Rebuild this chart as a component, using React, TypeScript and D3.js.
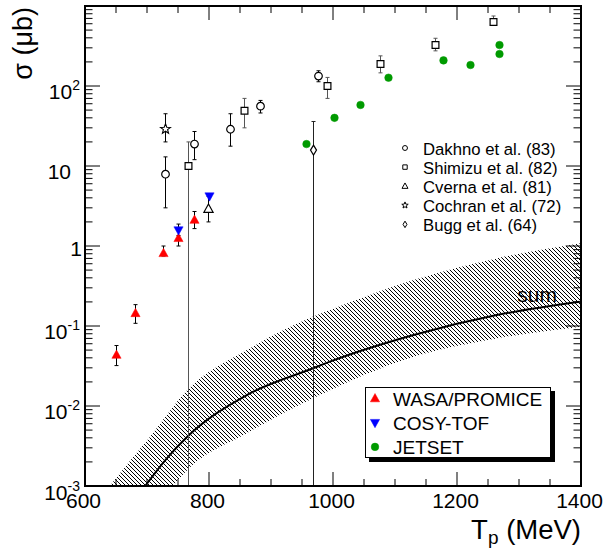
import React from 'react';
import * as d3 from 'd3';

// ---------- data ----------
const wasaT = [650, 680, 725, 750, 775];
const wasaV = [0.0434, 0.144, 0.81, 1.25, 2.11];
const wasaLo = [0.032, 0.108, 0.75, 1.0, 1.65];
const wasaHi = [0.057, 0.185, 1.0, 1.6, 2.7];

const cosyT = [750, 800];
const cosyV = [1.58, 4.2];
const cosyLo = [1.35, 4.2];
const cosyHi = [1.88, 4.2];

const jetT = [957, 1001, 1044, 1089, 1177, 1221, 1267, 1267];
const jetV = [18.8, 40, 58, 127, 209, 183, 325, 251];

const dakhnoT = [729, 776, 834, 882, 976];
const dakhnoV = [7.9, 18.8, 28.8, 56, 133];
const dakhnoLo = [3.0, 12, 17.7, 46, 113];
const dakhnoHi = [13, 27, 45, 66, 155];

const shimizuT = [766, 856, 990, 1076, 1165, 1258];
const shimizuV = [10, 49, 100, 188, 325, 631];
const shimizuLo = [0.0001, 30, 70, 146, 275, 580];
const shimizuHi = [20, 70, 128, 238, 395, 750];

const cvernaT = [799];
const cvernaV = [2.9];
const cvernaLo = [2.0];
const cvernaHi = [4.2];

const cochranT = [729];
const cochranV = [29];
const cochranLo = [20];
const cochranHi = [45];

const buggT = [968];
const buggV = [15.8];
const buggLo = [0.0001];
const buggHi = [36];

const sumT = [697, 732, 765, 861, 968, 995, 1130, 1264, 1398];
const sumV = [0.001, 0.00222, 0.00413, 0.0137, 0.0296, 0.0358, 0.0772, 0.137, 0.201];
const bandUpT = [640, 678, 705, 765, 861, 968, 995, 1130, 1264, 1400];
const bandUpV = [0.001, 0.00232, 0.00413, 0.0158, 0.05, 0.131, 0.158, 0.376, 0.7, 1.08];
const bandLoT = [742, 765, 861, 968, 1130, 1264, 1400];
const bandLoV = [0.001, 0.00158, 0.00457, 0.0125, 0.0413, 0.07, 0.098];

const xTickLabels = ['600', '800', '1000', '1200', '1400'];
const yTickExp = [-3, -2, -1, 0, 1, 2];

const legendTop = ['Dakhno et al. (83)', 'Shimizu et al. (82)', 'Cverna et al. (81)', 'Cochran et al. (72)', 'Bugg et al. (64)'];
const legendBox = ['WASA/PROMICE', 'COSY-TOF', 'JETSET'];

// ---------- layout ----------
const W = 604, H = 548;
const L = 85, R = 581, T = 6, B = 486;
const FONT = 'Liberation Sans, Arial, Helvetica, sans-serif';
const RED = '#ff0000', BLUE = '#0000ff', GREEN = '#009a00';

const x = d3.scaleLinear().domain([600, 1400]).range([L, R]);
const y = d3.scaleLog().domain([1e-3, 1e3]).range([B, T]);

type Shape = 'tri' | 'tridown' | 'circle' | 'square' | 'star' | 'diamond';

function markerPath(shape: Shape, s: number): string {
  switch (shape) {
    case 'tri':
      return `M0,${-5 * s}L${4.6 * s},${3.3 * s}L${-4.6 * s},${3.3 * s}Z`;
    case 'tridown':
      return `M0,${5 * s}L${4.6 * s},${-3.3 * s}L${-4.6 * s},${-3.3 * s}Z`;
    case 'square':
      return `M${-3.4 * s},${-3.4 * s}h${6.8 * s}v${6.8 * s}h${-6.8 * s}Z`;
    case 'diamond':
      return `M0,${-5 * s}L${3 * s},0L0,${5 * s}L${-3 * s},0Z`;
    case 'circle': {
      const r = 3.8 * s;
      return `M${r},0A${r},${r},0,1,1,${-r},0A${r},${r},0,1,1,${r},0Z`;
    }
    case 'star': {
      const pts: string[] = [];
      for (let i = 0; i < 10; i++) {
        const rr = i % 2 === 0 ? 5.2 * s : 2.2 * s;
        const a = -Math.PI / 2 + (i * Math.PI) / 5;
        pts.push(`${(rr * Math.cos(a)).toFixed(2)},${(rr * Math.sin(a)).toFixed(2)}`);
      }
      return 'M' + pts.join('L') + 'Z';
    }
  }
}

function ErrBars({ ts, lo, hi, color = '#000' }: { ts: number[]; lo: number[]; hi: number[]; color?: string }) {
  return (
    <g stroke={color} strokeWidth={1}>
      {ts.map((t, i) => {
        const cx = Math.round(x(t)) + 0.5;
        const y1 = Math.min(B, y(lo[i]));
        const y2 = y(hi[i]);
        if (Math.abs(y1 - y2) < 1) return null;
        return (
          <g key={i}>
            <line x1={cx} x2={cx} y1={y1} y2={y2} />
            {y1 < B - 1 && <line x1={cx - 2} x2={cx + 2} y1={y1} y2={y1} />}
            <line x1={cx - 2} x2={cx + 2} y1={y2} y2={y2} />
          </g>
        );
      })}
    </g>
  );
}

function Markers({ ts, vs, shape, fill, stroke, sw }: { ts: number[]; vs: number[]; shape: Shape; fill: string; stroke: string; sw: number }) {
  return (
    <g>
      {ts.map((t, i) => (
        <path key={i} d={markerPath(shape, 1)} transform={`translate(${Math.round(x(t)) + 0.5},${y(vs[i])})`} fill={fill} stroke={stroke} strokeWidth={sw} />
      ))}
    </g>
  );
}

export default function App() {
  const curve = d3.curveMonotoneX;
  const lineGen = d3.line<[number, number]>().x((d) => x(d[0])).y((d) => y(d[1])).curve(curve);
  const areaGen = d3.area<[number, number]>().x((d) => x(d[0])).y1((d) => y(d[1])).y0(B + 2).curve(curve);
  const up: [number, number][] = bandUpT.map((t, i) => [t, bandUpV[i]]);
  const lo: [number, number][] = bandLoT.map((t, i) => [t, bandLoV[i]]);
  const upArea = areaGen(up) || '';
  const loArea = areaGen(lo) || '';
  const sumPath = lineGen(sumT.map((t, i) => [t, sumV[i]] as [number, number])) || '';

  // ticks
  const xMajor = d3.range(600, 1401, 200);
  const xMinor = d3.range(600, 1401, 50).filter((v) => v % 200 !== 0);
  const yMajor = d3.range(-3, 4).map((e) => Math.pow(10, e));
  const yMinor: number[] = [];
  for (let e = -3; e < 3; e++) for (let m = 2; m <= 9; m++) yMinor.push(m * Math.pow(10, e));

  return (
    <svg width={W} height={H} style={{ position: 'absolute', left: 0, top: 0, background: '#fff' }} fontFamily={FONT}>
      <defs>
        <clipPath id="frame">
          <rect x={L} y={T} width={R - L} height={B - T} />
        </clipPath>
        <pattern id="hatch" x={0} y={0} width={4} height={4} patternUnits="userSpaceOnUse">
          <path d="M0,0h1v1h-1ZM1,1h1v1h-1ZM2,2h1v1h-1ZM3,3h1v1h-1Z" fill="#000" shapeRendering="crispEdges" />
        </pattern>
      </defs>
      <rect x={0} y={0} width={W} height={H} fill="#fff" />

      <g clipPath="url(#frame)">
        <path d={upArea} fill="url(#hatch)" stroke="none" />
        <path d={loArea} fill="#fff" stroke="none" />
        <path d={sumPath} fill="none" stroke="#000" strokeWidth={2} />
      </g>

      <text x={557} y={302} fontSize={21} textAnchor="end" fill="#000">sum</text>

      <g clipPath="url(#frame)">
        <ErrBars ts={wasaT} lo={wasaLo} hi={wasaHi} />
        <ErrBars ts={cosyT} lo={cosyLo} hi={cosyHi} />
        <ErrBars ts={dakhnoT} lo={dakhnoLo} hi={dakhnoHi} />
        <ErrBars ts={shimizuT} lo={shimizuLo} hi={shimizuHi} color="#555" />
        <ErrBars ts={cvernaT} lo={cvernaLo} hi={cvernaHi} />
        <ErrBars ts={cochranT} lo={cochranLo} hi={cochranHi} />
        <ErrBars ts={buggT} lo={buggLo} hi={buggHi} color="#222" />

        <Markers ts={wasaT} vs={wasaV} shape="tri" fill={RED} stroke={RED} sw={0.5} />
        <Markers ts={cosyT} vs={cosyV} shape="tridown" fill={BLUE} stroke={BLUE} sw={0.5} />
        <Markers ts={jetT} vs={jetV} shape="circle" fill={GREEN} stroke={GREEN} sw={0.5} />
        <Markers ts={dakhnoT} vs={dakhnoV} shape="circle" fill="#fff" stroke="#000" sw={1.2} />
        <Markers ts={shimizuT} vs={shimizuV} shape="square" fill="#fff" stroke="#000" sw={1.2} />
        <Markers ts={cvernaT} vs={cvernaV} shape="tri" fill="#fff" stroke="#000" sw={1.2} />
        <Markers ts={cochranT} vs={cochranV} shape="star" fill="#fff" stroke="#000" sw={1.1} />
        <Markers ts={buggT} vs={buggV} shape="diamond" fill="#fff" stroke="#000" sw={1.2} />
      </g>

      {/* upper legend */}
      <g>
        {legendTop.map((label, i) => {
          const cy = 148 + i * 19.1;
          const shapes: Shape[] = ['circle', 'square', 'tri', 'star', 'diamond'];
          return (
            <g key={label}>
              <path d={markerPath(shapes[i], 0.65)} transform={`translate(405,${cy})`} fill="#fff" stroke="#000" strokeWidth={1} />
              <text x={423} y={cy + 6.5} fontSize={16.7} fill="#000">{label}</text>
            </g>
          );
        })}
      </g>

      {/* box legend */}
      <g>
        <rect x={369} y={391} width={186} height={71} fill="#000" />
        <rect x={365.5} y={387.5} width={185} height={70} fill="#fff" stroke="#000" strokeWidth={1} />
        {legendBox.map((label, i) => {
          const cy = 398.5 + i * 24.2;
          const shape: Shape = i === 0 ? 'tri' : i === 1 ? 'tridown' : 'circle';
          const col = i === 0 ? RED : i === 1 ? BLUE : GREEN;
          return (
            <g key={label}>
              <path d={markerPath(shape, 1)} transform={`translate(375,${cy})`} fill={col} stroke={col} strokeWidth={0.5} />
              <text x={393} y={cy + 7} fontSize={19} fill="#000">{label}</text>
            </g>
          );
        })}
      </g>

      {/* axes ticks */}
      <g stroke="#000" strokeWidth={1}>
        {xMajor.map((v) => (
          <g key={'xM' + v}>
            <line x1={x(v)} x2={x(v)} y1={B} y2={B - 14} />
            <line x1={x(v)} x2={x(v)} y1={T} y2={T + 14} />
          </g>
        ))}
        {xMinor.map((v) => (
          <g key={'xm' + v}>
            <line x1={x(v)} x2={x(v)} y1={B} y2={B - 7} />
            <line x1={x(v)} x2={x(v)} y1={T} y2={T + 7} />
          </g>
        ))}
        {yMajor.map((v) => (
          <g key={'yM' + v}>
            <line x1={L} x2={L + 15} y1={y(v)} y2={y(v)} />
            <line x1={R} x2={R - 15} y1={y(v)} y2={y(v)} />
          </g>
        ))}
        {yMinor.map((v) => (
          <g key={'ym' + v}>
            <line x1={L} x2={L + 7.5} y1={y(v)} y2={y(v)} />
            <line x1={R} x2={R - 7.5} y1={y(v)} y2={y(v)} />
          </g>
        ))}
      </g>
      <rect x={L} y={T} width={R - L} height={B - T} fill="none" stroke="#000" strokeWidth={2} />

      {/* x tick labels */}
      <g fontSize={21} fill="#000" textAnchor="middle">
        {xTickLabels.map((lab) => (
          <text key={lab} x={x(+lab) - 1.5} y={508}>{lab}</text>
        ))}
      </g>

      {/* y tick labels */}
      <g fontSize={21} fill="#000">
        {yTickExp.map((e) => {
          const ty = y(Math.pow(10, e));
          if (e === 0) return <text key={e} x={82} y={ty + 10} textAnchor="end">1</text>;
          if (e === 1) return <text key={e} x={71} y={ty + 13} textAnchor="end">10</text>;
          return (
            <text key={e} x={80} y={ty + (e === -3 ? 14 : 13)} textAnchor="end">
              10<tspan fontSize={14} dy={-9}>{String(e)}</tspan>
            </text>
          );
        })}
      </g>

      {/* axis titles */}
      <text x={581} y={539} fontSize={27.5} textAnchor="end" fill="#000">
        T<tspan fontSize={19} dy={5}>p</tspan><tspan dy={-5}> (MeV)</tspan>
      </text>
      <text transform="translate(32,7) rotate(-90)" fontSize={27} textAnchor="end" fill="#000">σ (μb)</text>
    </svg>
  );
}
